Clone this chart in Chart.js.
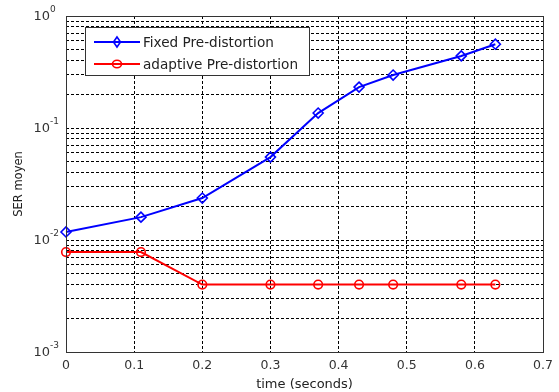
<!DOCTYPE html>
<html>
<head>
<meta charset="utf-8">
<script src="https://cdn.jsdelivr.net/npm/chart.js@4"></script>
<style>
  html, body { margin: 0; padding: 0; background: #fff; }
  #wrap { width: 559px; height: 392px; }
</style>
</head>
<body>
<div id="wrap"><canvas id="serChart" width="559" height="392"></canvas></div>
<script>
// values
const fixedTimes = [0, 0.11, 0.2, 0.3, 0.37, 0.43, 0.48, 0.58, 0.63];
const fixedSer = [0.0118, 0.016, 0.0237, 0.055, 0.136, 0.232, 0.297, 0.44, 0.56];
const adaptiveTimes = [0, 0.11, 0.2, 0.3, 0.37, 0.43, 0.48, 0.58, 0.63];
const adaptiveSer = [0.0078, 0.0078, 0.004, 0.004, 0.004, 0.004, 0.004, 0.004, 0.004];
const xTicks = [0, 0.1, 0.2, 0.3, 0.4, 0.5, 0.6, 0.7];
const decades = [-3, -2, -1, 0];

const yTicks = [];
decades.forEach(function (d) {
    if (d === 0) { yTicks.push(1); return; }
    for (let m = 1; m <= 9; m++) yTicks.push(m * Math.pow(10, d));
});

function toPoints(xs, ys) {
    return xs.map(function (x, i) { return { x: x, y: ys[i] }; });
}

const frameAndLegend = {
    id: "frameAndLegend",
    afterDraw(chart) {
        const ctx = chart.ctx;
        const a = chart.chartArea;
        const yScale = chart.scales.y;
        ctx.save();

        // axes box
        ctx.strokeStyle = "#333";
        ctx.lineWidth = 1;
        ctx.setLineDash([]);
        ctx.strokeRect(Math.round(a.left) + 0.5, Math.round(a.top) + 0.5,
            Math.round(a.right - a.left), Math.round(a.bottom - a.top));

        // y labels 10^n
        ctx.fillStyle = "#333";
        ctx.textBaseline = "middle";
        decades.forEach(function (d) {
            const py = yScale.getPixelForValue(Math.pow(10, d));
            ctx.font = "13px 'DejaVu Sans'";
            ctx.textAlign = "right";
            ctx.fillText("10", a.left - 16, py + 1);
            ctx.font = "9px 'DejaVu Sans'";
            ctx.textAlign = "left";
            ctx.fillText(d === 0 ? "0" : "-" + Math.abs(d), a.left - 16, py - 6);
        });

        // legend
        const lx = 85, ly = 27, lw = 224, lh = 48;
        ctx.fillStyle = "#fff";
        ctx.fillRect(lx, ly, lw, lh);
        ctx.strokeStyle = "#333";
        ctx.strokeRect(lx + 0.5, ly + 0.5, lw, lh);
        chart.data.datasets.forEach(function (ds, i) {
            const cy = ly + 15 + i * 22;
            ctx.strokeStyle = ds.borderColor;
            ctx.lineWidth = 2;
            ctx.beginPath();
            ctx.moveTo(lx + 9, cy);
            ctx.lineTo(lx + 55, cy);
            ctx.stroke();
            ctx.lineWidth = 1.6;
            ctx.beginPath();
            if (ds.pointStyle === "rectRot") {
                ctx.moveTo(lx + 32, cy - 5);
                ctx.lineTo(lx + 35.5, cy);
                ctx.lineTo(lx + 32, cy + 5);
                ctx.lineTo(lx + 28.5, cy);
                ctx.closePath();
            } else {
                ctx.ellipse(lx + 32, cy, 4.5, 3.8, 0, 0, Math.PI * 2);
            }
            ctx.stroke();
            ctx.fillStyle = "#222";
            ctx.font = "13.6px 'DejaVu Sans'";
            ctx.textAlign = "left";
            ctx.fillText(ds.label, lx + 58, cy + 1);
        });
        ctx.restore();
    }
};

new Chart(document.getElementById("serChart"), {
    type: "line",
    data: {
        datasets: [{
            label: "Fixed Pre-distortion",
            data: toPoints(fixedTimes, fixedSer),
            borderColor: "#0000ff",
            backgroundColor: "rgba(0,0,0,0)",
            borderWidth: 2,
            pointStyle: "rectRot",
            pointRadius: 5,
            pointBorderWidth: 1.6,
            pointBackgroundColor: "rgba(0,0,0,0)",
            clip: false,
            tension: 0
        }, {
            label: "adaptive Pre-distortion",
            data: toPoints(adaptiveTimes, adaptiveSer),
            borderColor: "#ff0000",
            backgroundColor: "rgba(0,0,0,0)",
            borderWidth: 2,
            pointStyle: "circle",
            pointRadius: 4.3,
            pointBorderWidth: 1.6,
            pointBackgroundColor: "rgba(0,0,0,0)",
            clip: false,
            tension: 0
        }]
    },
    options: {
        responsive: false,
        animation: false,
        layout: { padding: { top: 16, right: 9, left: 12, bottom: 0 } },
        plugins: {
            legend: { display: false },
            tooltip: { enabled: false }
        },
        scales: {
            x: {
                type: "linear",
                min: 0,
                max: 0.7,
                afterBuildTicks(scale) {
                    scale.ticks = xTicks.map(function (v) { return { value: v }; });
                },
                afterFit(scale) { scale.height = 40; },
                grid: { color: "#000", lineWidth: 1, drawTicks: false },
                border: { display: false, dash: [3, 2] },
                ticks: {
                    color: "#333",
                    font: { family: "DejaVu Sans", size: 12.5 },
                    padding: 6,
                    maxRotation: 0,
                    callback: function (v) { return String(Math.round(v * 10) / 10); }
                },
                title: {
                    display: true,
                    text: "time (seconds)",
                    color: "#222",
                    font: { family: "DejaVu Sans", size: 13 },
                    padding: { top: 0, bottom: 0 }
                }
            },
            y: {
                type: "logarithmic",
                min: 0.001,
                max: 1,
                afterBuildTicks(scale) {
                    scale.ticks = yTicks.map(function (v) { return { value: v }; });
                },
                afterFit(scale) { scale.width = 54; },
                grid: { color: "#000", lineWidth: 1, drawTicks: false },
                border: { display: false, dash: [3, 2] },
                ticks: {
                    autoSkip: false,
                    callback: function () { return ""; }
                },
                title: {
                    display: true,
                    text: "SER moyen",
                    color: "#222",
                    font: { family: "DejaVu Sans", size: 11.5 },
                    padding: { top: 0, bottom: 0 }
                }
            }
        }
    },
    plugins: [frameAndLegend]
});
</script>
</body>
</html>
